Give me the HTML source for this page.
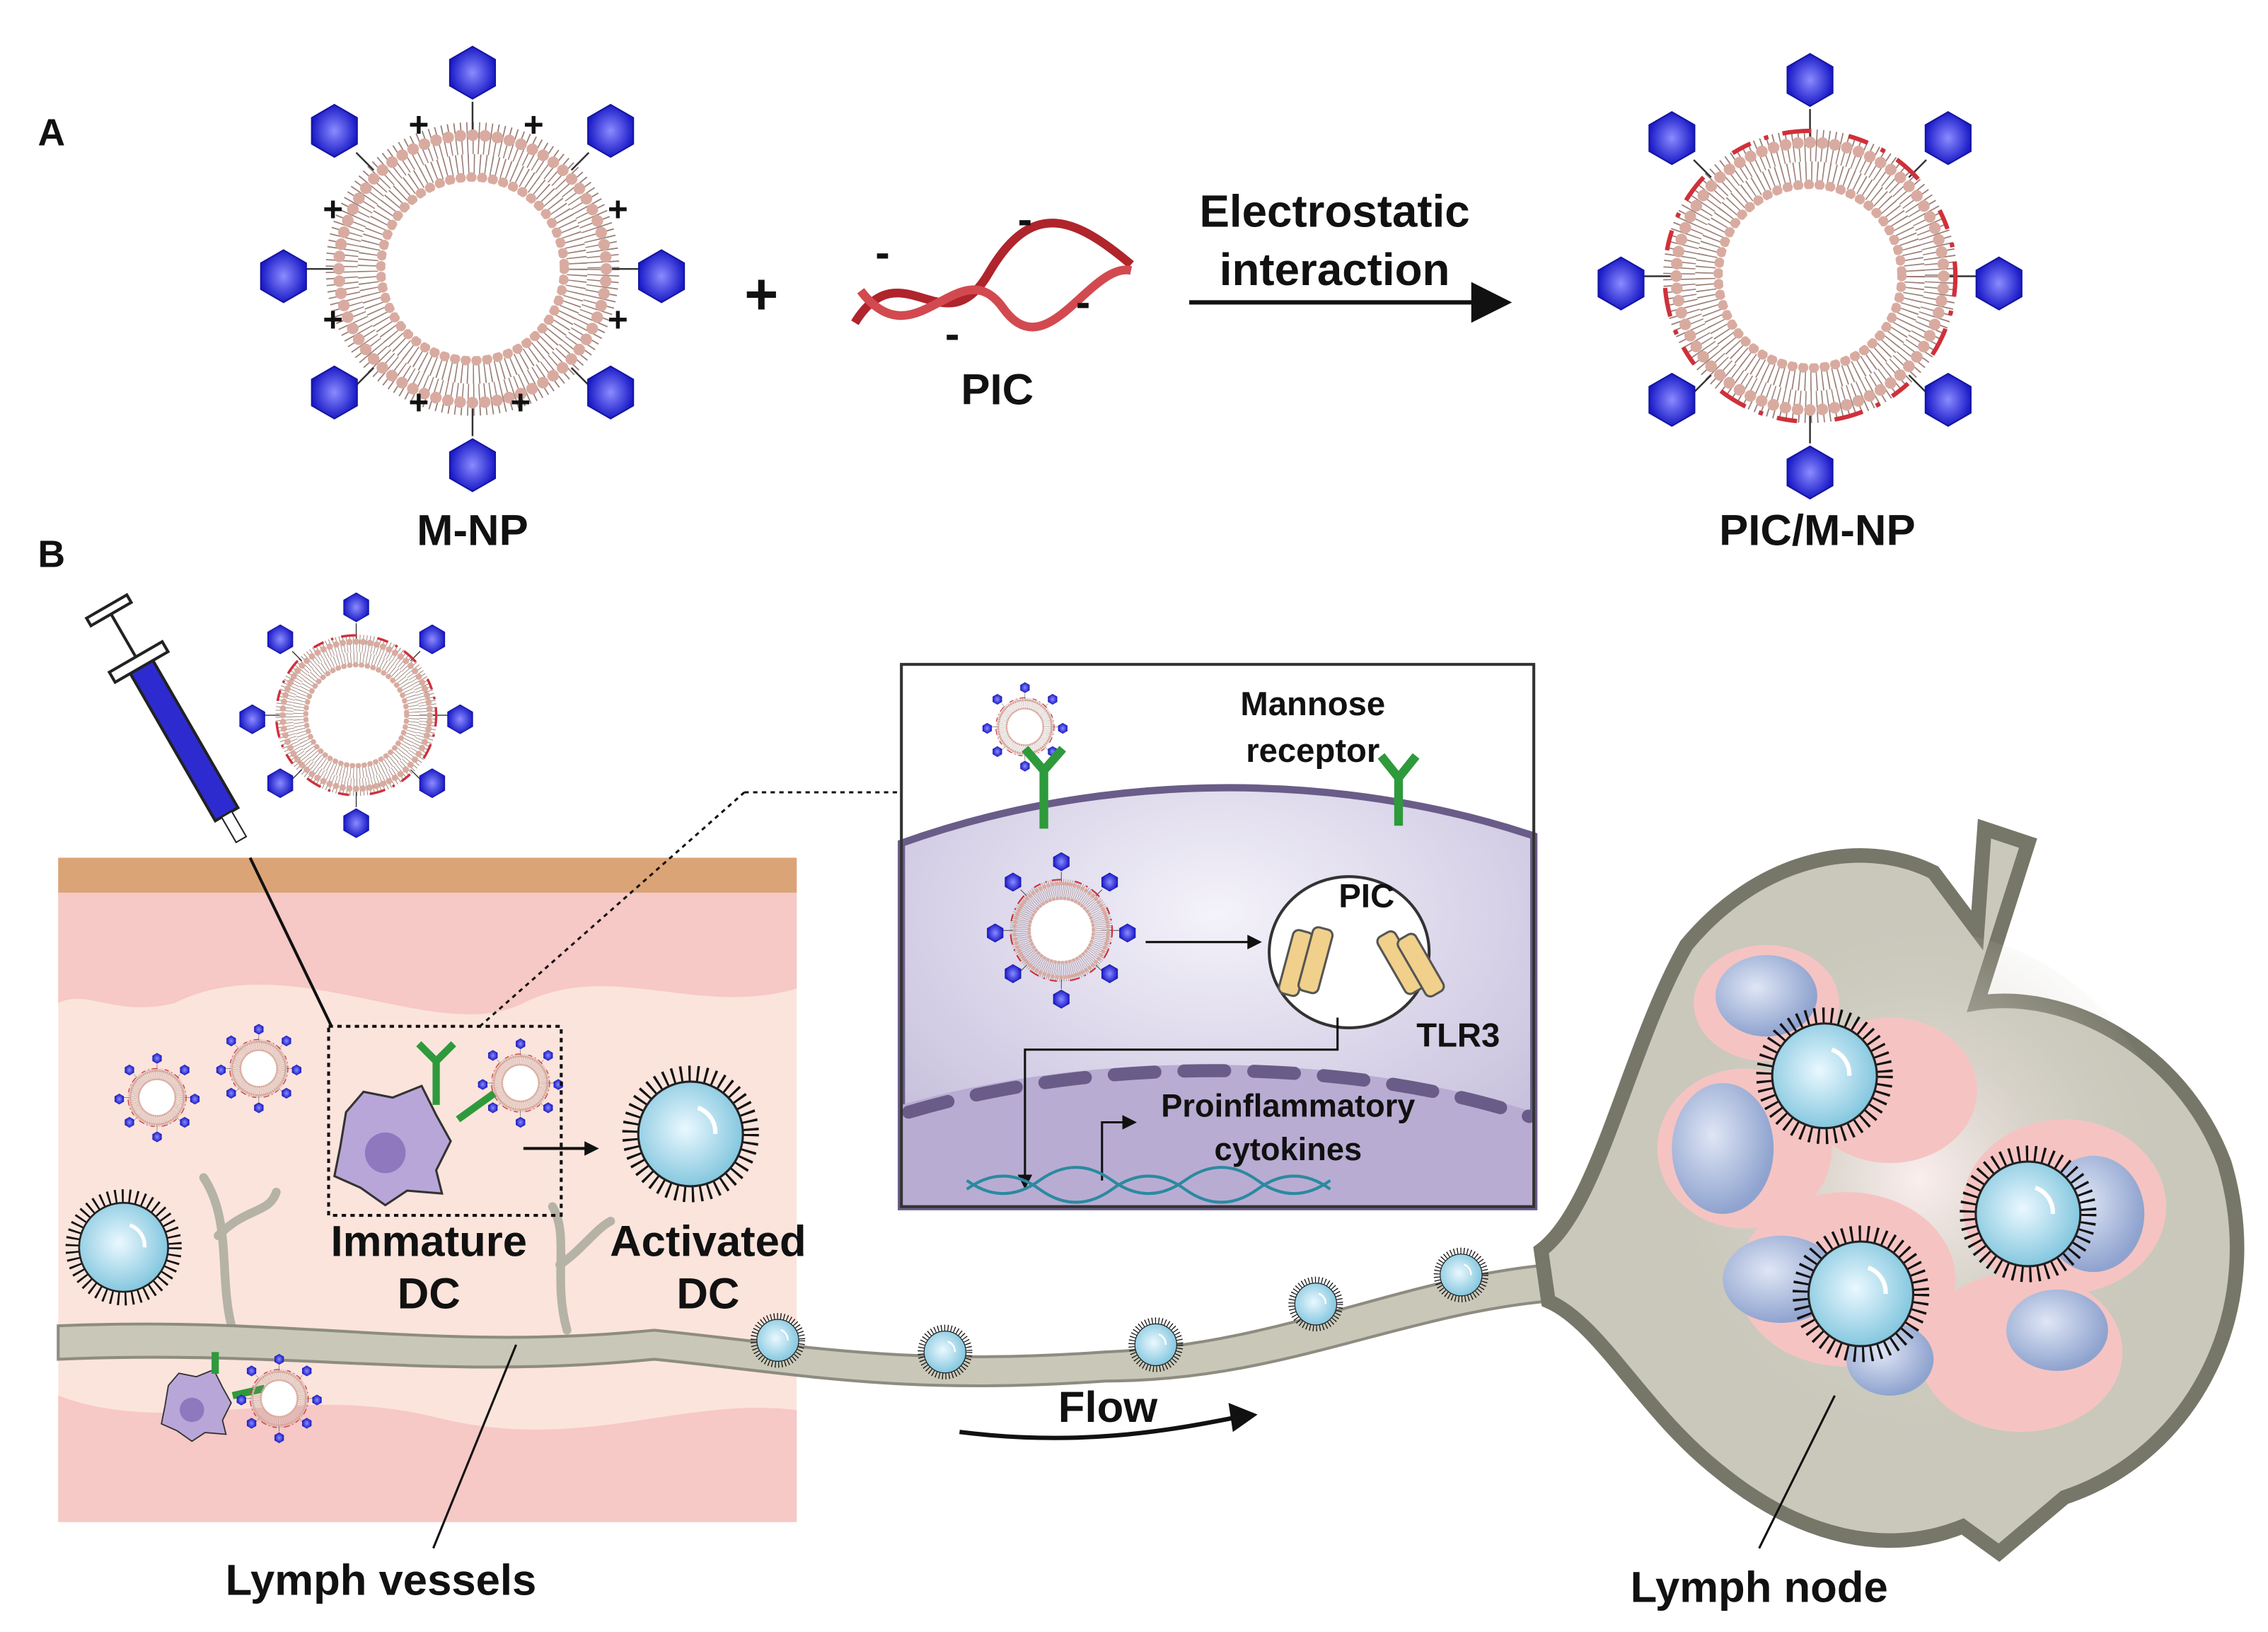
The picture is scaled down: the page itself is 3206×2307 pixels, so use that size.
<!DOCTYPE html>
<html><head><meta charset="utf-8"><style>
html,body{margin:0;padding:0;background:#fff}
svg{display:block}
text{font-family:"Liberation Sans",Arial,sans-serif;font-weight:bold;fill:#111}
</style></head><body>
<svg width="3206" height="2307" viewBox="0 0 1560 1122.6" xmlns="http://www.w3.org/2000/svg">
<defs>
 <radialGradient id="hx" cx="50%" cy="50%" r="50%"><stop offset="0" stop-color="#8a8cff"/><stop offset="1" stop-color="#1b1bc8"/></radialGradient>
 <radialGradient id="dc" cx="45%" cy="45%" r="60%"><stop offset="0" stop-color="#eaf8ff"/><stop offset="1" stop-color="#7cc3dc"/></radialGradient>
 <radialGradient id="lb" cx="40%" cy="40%" r="60%"><stop offset="0" stop-color="#dfe6f5"/><stop offset="1" stop-color="#8fa3cf"/></radialGradient>
 <radialGradient id="cellg" cx="50%" cy="30%" r="70%"><stop offset="0" stop-color="#f4f2fa"/><stop offset="1" stop-color="#c6bfdc"/></radialGradient>
 <radialGradient id="lnc" cx="50%" cy="45%" r="50%"><stop offset="0" stop-color="#fbeeee"/><stop offset="1" stop-color="#c9c8bb" stop-opacity="0"/></radialGradient>
 <g id="mem">
  <circle r="90" fill="none" stroke="#9a7f78" stroke-width="22" stroke-dasharray="0.8 3.2"/>
  <circle r="92" fill="none" stroke="#d9aba0" stroke-width="8" stroke-dasharray="0 8.5" stroke-linecap="round"/>
  <circle r="72" fill="none" stroke="#9a7f78" stroke-width="14" stroke-dasharray="0.8 3.2"/>
  <circle r="63" fill="none" stroke="#d9aba0" stroke-width="7" stroke-dasharray="0 7.4" stroke-linecap="round"/>
  <circle r="60" fill="#fff"/>
 </g>
 <polygon id="hex" points="0,-18 15.6,-9 15.6,9 0,18 -15.6,9 -15.6,-9" fill="url(#hx)" stroke="#1414a0" stroke-width="1"/>
 <g id="np">
  <use href="#mem"/>
  <g stroke="#333" stroke-width="1.2">
   <line x1="0" y1="-96" x2="0" y2="-115"/><line x1="0" y1="96" x2="0" y2="115"/>
   <line x1="-96" y1="0" x2="-115" y2="0"/><line x1="96" y1="0" x2="115" y2="0"/>
   <line x1="68" y1="68" x2="80" y2="80"/><line x1="-68" y1="68" x2="-80" y2="80"/>
   <line x1="68" y1="-68" x2="80" y2="-80"/><line x1="-68" y1="-68" x2="-80" y2="-80"/>
  </g>
  <use href="#hex" x="0" y="-135"/><use href="#hex" x="0" y="135"/>
  <use href="#hex" x="-130" y="5"/><use href="#hex" x="130" y="5"/>
  <use href="#hex" x="-95" y="-95"/><use href="#hex" x="95" y="-95"/>
  <use href="#hex" x="-95" y="85"/><use href="#hex" x="95" y="85"/>
 </g>
 <g id="pnp">
  <use href="#np"/>
  <circle r="100" fill="none" stroke="#d0303a" stroke-width="3" stroke-dasharray="14 10 3 10 20 26"/>
 </g>
 <g id="adc">
  <circle r="40" fill="none" stroke="#111" stroke-width="14" stroke-dasharray="1.5 4"/>
  <circle r="36" fill="url(#dc)" stroke="#222" stroke-width="1.5"/>
  <path d="M5,-18 a18,18 0 0 1 12,18" fill="none" stroke="#fff" stroke-width="3"/>
 </g>
 <g id="idc">
  <path d="M-32,-20 L-20,-34 L0,-30 L20,-38 L30,-18 L40,0 L30,20 L34,36 L10,34 L-5,44 L-22,32 L-40,24 L-36,4 Z" fill="#b9a6d8" stroke="#333" stroke-width="1.5"/>
  <circle cx="-5" cy="8" r="14" fill="#8f78be"/>
 </g>
</defs>

<text x="26" y="100" font-size="26">A</text>
<text x="26" y="390" font-size="26">B</text>
<use href="#np" x="325" y="185"/>
<g font-size="24">
 <text x="281" y="94">+</text><text x="360" y="94">+</text>
 <text x="222" y="152">+</text><text x="418" y="152">+</text>
 <text x="222" y="228">+</text><text x="418" y="228">+</text>
 <text x="281" y="285">+</text><text x="351" y="285">+</text>
</g>
<text x="512" y="216" font-size="40">+</text>
<g fill="none" stroke="#b0242c" stroke-width="6">
 <path d="M588,222 C620,170 650,240 680,188 S740,150 778,182"/>
 <path d="M592,200 C630,250 660,170 690,212 S750,180 778,186" stroke="#d24a50"/>
</g>
<g font-size="30"><text x="602" y="184">-</text><text x="700" y="161">-</text><text x="740" y="218">-</text><text x="650" y="240">-</text></g>
<text x="686" y="278" font-size="30" text-anchor="middle">PIC</text>
<text x="918" y="156" font-size="31" text-anchor="middle">Electrostatic</text>
<text x="918" y="196" font-size="31" text-anchor="middle">interaction</text>
<line x1="818" y1="208" x2="1020" y2="208" stroke="#111" stroke-width="3"/>
<polygon points="1040,208 1012,194 1012,222" fill="#111"/>
<use href="#pnp" x="1245" y="190"/>
<text x="325" y="375" font-size="30" text-anchor="middle">M-NP</text>
<text x="1250" y="375" font-size="30" text-anchor="middle">PIC/M-NP</text>

<rect x="40" y="590" width="508" height="457" fill="#fbe4dc"/>
<path d="M40,612 H548 V680 C480,700 420,660 360,690 C300,720 200,650 120,690 C80,700 60,680 40,690 Z" fill="#f6c8c6"/>
<path d="M40,960 C120,990 200,950 300,975 C400,1000 470,960 548,970 V1047 H40 Z" fill="#f6c8c6"/>
<rect x="40" y="590" width="508" height="24" fill="#dba477"/>
<g fill="none" stroke="#b5b2a6" stroke-width="6" stroke-linecap="round">
 <path d="M160,915 C150,880 160,840 140,810 M150,850 C170,830 185,835 190,820"/>
 <path d="M390,915 C380,880 392,850 380,830 M385,870 C400,860 410,845 420,840"/>
</g>
<path d="M40,912 C200,905 300,930 450,915 C550,925 620,940 760,930 C880,925 960,880 1065,870 L1065,895 C960,905 880,950 760,950 C620,960 550,945 450,935 C300,950 200,928 40,935 Z" fill="#c9c8b8" stroke="#8e8c80" stroke-width="2"/>
<path d="M1060,860 C1100,830 1120,720 1160,650 C1210,590 1280,575 1330,600 L1360,640 L1365,570 L1395,580 L1360,690 C1420,680 1500,720 1530,800 C1560,900 1510,1000 1420,1030 L1375,1068 L1350,1050 C1300,1070 1240,1060 1180,1010 C1130,970 1100,910 1065,895 Z" fill="#c9c8bb" stroke="#777769" stroke-width="10"/>
<ellipse cx="1320" cy="830" rx="180" ry="190" fill="url(#lnc)"/>
<g fill="#f5c4c2">
 <ellipse cx="1215" cy="690" rx="50" ry="40"/><ellipse cx="1200" cy="790" rx="60" ry="55"/>
 <ellipse cx="1270" cy="880" rx="75" ry="60"/><ellipse cx="1420" cy="830" rx="70" ry="60"/>
 <ellipse cx="1390" cy="930" rx="70" ry="55"/><ellipse cx="1300" cy="750" rx="60" ry="50"/>
</g>
<g fill="url(#lb)">
 <ellipse cx="1215" cy="685" rx="35" ry="28"/><ellipse cx="1185" cy="790" rx="35" ry="45"/>
 <ellipse cx="1225" cy="880" rx="40" ry="30"/><ellipse cx="1300" cy="935" rx="30" ry="25"/>
 <ellipse cx="1440" cy="835" rx="35" ry="40"/><ellipse cx="1415" cy="915" rx="35" ry="28"/>
</g>
<use href="#adc" x="1255" y="740"/><use href="#adc" x="1395" y="835"/>
<use href="#adc" x="1280" y="890"/>
<g transform="translate(535,922) scale(0.4)"><use href="#adc"/></g>
<g transform="translate(650,930) scale(0.4)"><use href="#adc"/></g>
<g transform="translate(795,925) scale(0.4)"><use href="#adc"/></g>
<g transform="translate(905,897) scale(0.4)"><use href="#adc"/></g>
<g transform="translate(1005,877) scale(0.4)"><use href="#adc"/></g>
<use href="#adc" x="475" y="780"/>
<g transform="translate(85,858) scale(0.85)"><use href="#adc"/></g>
<use href="#idc" x="270" y="785"/>
<g transform="translate(135,965) scale(0.6)"><use href="#idc"/></g>
<g stroke="#2e9a3c" stroke-width="5" fill="none"><path d="M300,760 V730 M288,718 L300,730 L312,718"/><path d="M315,770 L340,752"/><path d="M160,960 L182,955 M148,945 V930"/></g>
<g transform="translate(108,755) scale(0.2)"><use href="#pnp"/></g>
<g transform="translate(178,735) scale(0.2)"><use href="#pnp"/></g>
<g transform="translate(358,745) scale(0.2)"><use href="#pnp"/></g>
<g transform="translate(192,962) scale(0.2)"><use href="#pnp"/></g>
<rect x="226" y="706" width="160" height="130" fill="none" stroke="#111" stroke-width="2" stroke-dasharray="3 3"/>
<line x1="360" y1="790" x2="405" y2="790" stroke="#111" stroke-width="2"/><polygon points="412,790 402,785 402,795" fill="#111"/>
<g transform="rotate(-30 120 500)">
 <rect x="112" y="450" width="18" height="120" fill="#2d2bd0" stroke="#222" stroke-width="2"/>
 <rect x="100" y="445" width="42" height="8" fill="#fff" stroke="#222" stroke-width="2"/>
 <line x1="121" y1="445" x2="121" y2="410" stroke="#222" stroke-width="2"/>
 <rect x="105" y="405" width="32" height="6" fill="#fff" stroke="#222" stroke-width="2"/>
 <rect x="117" y="570" width="8" height="20" fill="#fff" stroke="#222"/>
</g>
<line x1="172" y1="590" x2="228" y2="706" stroke="#111" stroke-width="2"/>
<g transform="translate(245,492) scale(0.55)"><use href="#pnp"/></g>
<line x1="330" y1="706" x2="512" y2="545" stroke="#111" stroke-width="1.5" stroke-dasharray="3 3"/>
<line x1="512" y1="545" x2="620" y2="545" stroke="#111" stroke-width="1.5" stroke-dasharray="3 3"/>
<rect x="620" y="457" width="435" height="373" fill="#fff"/>
<path d="M620,580 C760,530 920,530 1055,575 V830 H620 Z" fill="url(#cellg)" stroke="#6a5c88" stroke-width="5"/>
<path d="M620,760 C760,720 930,725 1055,765 V830 H620 Z" fill="#b9acd2"/>
<g stroke="#6a5c88" stroke-width="9" stroke-linecap="round" fill="none" stroke-dasharray="28 20">
 <path d="M625,765 C760,725 930,728 1052,768"/>
</g>
<ellipse cx="928" cy="655" rx="55" ry="52" fill="#fff" stroke="#333" stroke-width="2"/>
<g fill="#f0d08a" stroke="#555" stroke-width="1.5">
 <rect x="885" y="640" width="14" height="45" rx="4" transform="rotate(15 892 660)"/><rect x="898" y="638" width="14" height="45" rx="4" transform="rotate(15 905 660)"/>
 <rect x="955" y="640" width="14" height="45" rx="4" transform="rotate(-30 962 660)"/><rect x="968" y="642" width="14" height="45" rx="4" transform="rotate(-30 975 660)"/>
</g>
<g transform="translate(705,500) scale(0.2)"><use href="#pnp"/></g>
<g transform="translate(730,640) scale(0.35)"><use href="#pnp"/></g>
<g stroke="#2e9a3c" stroke-width="6" fill="none"><path d="M718,570 V530 M705,515 L718,530 L731,515"/><path d="M962,568 V535 M950,520 L962,535 L974,520"/></g>
<line x1="788" y1="648" x2="860" y2="648" stroke="#111" stroke-width="1.5"/><polygon points="868,648 858,643 858,653" fill="#111"/>
<path d="M920,700 V722 H705 V812" fill="none" stroke="#111" stroke-width="1.5"/><polygon points="705,818 700,808 710,808" fill="#111"/>
<path d="M758,812 V772 H775" fill="none" stroke="#111" stroke-width="1.5"/><polygon points="782,772 772,767 772,777" fill="#111"/>
<g fill="none" stroke="#2a8aa0" stroke-width="2"><path d="M665,818 Q690,800 715,818 T765,818 T815,818 T865,818 T915,818"/><path d="M665,812 Q690,830 715,812 T765,812 T815,812 T865,812 T915,812"/></g>
<rect x="620" y="457" width="435" height="373" fill="none" stroke="#333" stroke-width="2"/>
<text x="903" y="492" font-size="23" text-anchor="middle">Mannose</text>
<text x="903" y="524" font-size="23" text-anchor="middle">receptor</text>
<text x="940" y="624" font-size="23" text-anchor="middle">PIC</text>
<text x="1003" y="720" font-size="23" text-anchor="middle">TLR3</text>
<text x="886" y="768" font-size="22" text-anchor="middle">Proinflammatory</text>
<text x="886" y="798" font-size="22" text-anchor="middle">cytokines</text>
<text x="295" y="864" font-size="30" text-anchor="middle">Immature</text>
<text x="295" y="900" font-size="30" text-anchor="middle">DC</text>
<text x="487" y="864" font-size="30" text-anchor="middle">Activated</text>
<text x="487" y="900" font-size="30" text-anchor="middle">DC</text>
<line x1="355" y1="925" x2="298" y2="1065" stroke="#111" stroke-width="1.5"/>
<text x="262" y="1097" font-size="30" text-anchor="middle">Lymph vessels</text>
<path d="M660,985 C740,995 800,985 850,975" fill="none" stroke="#111" stroke-width="3"/>
<polygon points="865,973 845,965 848,985" fill="#111"/>
<text x="762" y="978" font-size="30" text-anchor="middle">Flow</text>
<line x1="1262" y1="960" x2="1210" y2="1065" stroke="#111" stroke-width="1.5"/>
<text x="1210" y="1102" font-size="30" text-anchor="middle">Lymph node</text>
</svg>
</body></html>
